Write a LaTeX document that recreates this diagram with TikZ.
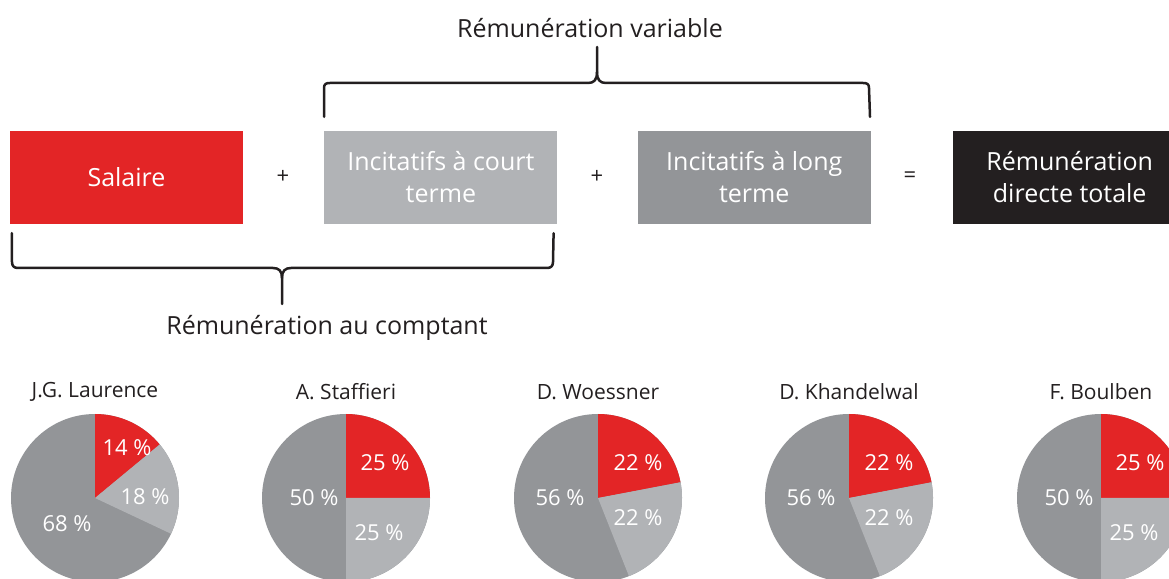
\documentclass[tikz,border=0pt]{standalone}
\usepackage{fontspec}
\setmainfont{Open Sans}
\usetikzlibrary{positioning}

\definecolor{salred}{HTML}{E32526}
\definecolor{courtgray}{HTML}{B1B3B6}
\definecolor{longgray}{HTML}{939598}
\definecolor{totalblack}{HTML}{231F20}

\tikzset{
  box/.style={minimum width=233, minimum height=93, inner sep=0pt, text=white,
    align=center, font=\fontsize{25}{32}\selectfont},
  op/.style={font=\fontsize{22}{26}\selectfont, text=totalblack},
  caption/.style={font=\fontsize{25}{29}\selectfont, text=totalblack},
  bracket/.style={line width=2.5, totalblack, line cap=round, line join=round},
  pietitle/.style={font=\fontsize{21}{25}\selectfont, text=totalblack},
  pct/.style={font=\fontsize{22}{26}\selectfont, text=white},
}

% #1 name, #2 centre x, #3 title, #4 red, #5 light, #6/#7/#8 label positions
\newcommand{\piechart}[8]{%
  \begin{scope}[shift={(#2,80)}]
    \pgfmathsetmacro{\angA}{90-3.6*#4}
    \pgfmathsetmacro{\angB}{\angA-3.6*#5}
    \pgfmathtruncatemacro{\rest}{100-#4-#5}
    \fill[longgray] (0,0) circle[radius=84];
    \fill[salred] (0,0) -- (90:84) arc[start angle=90, end angle=\angA, radius=84] -- cycle;
    \fill[courtgray] (0,0) -- (\angA:84) arc[start angle=\angA, end angle=\angB, radius=84] -- cycle;
    \node[pietitle] (#1-title) at (0,106) {#3};
    \node[pct] (#1-red) at (#6) {#4~\%};
    \node[pct] (#1-light) at (#7) {#5~\%};
    \node[pct] (#1-dark) at (#8) {\rest~\%};
  \end{scope}}

\begin{document}
\begin{tikzpicture}[x=1pt,y=1pt]
  \useasboundingbox (0,0) rectangle (1169,578);

  % components
  \node[box, fill=salred] (salaire) at (126.5,400.5) {Salaire};
  \node[box, fill=courtgray, right=81 of salaire] (court) {Incitatifs à court\\terme};
  \node[box, fill=longgray, right=80 of court] (long) {Incitatifs à long\\terme};
  \node[box, fill=totalblack, right=82 of long] (total) {Rémunération\\directe totale};

  \node[op] (plusA) at (283,401) {+};
  \node[op] (plusB) at (597,401) {+};
  \node[op] (equal) at (910,401) {=};

  % upper bracket
  \draw[bracket] ([yshift=14]court.north west) -- (324,490)
    .. controls (324,494) and (326,495) .. (330,495) -- (588,495)
    .. controls (594,495) and (597,498) .. (597,506) -- (597,531);
  \draw[bracket] ([xshift=-1,yshift=14]long.north east) -- (869,490)
    .. controls (869,494) and (867,495) .. (863,495) -- (606,495)
    .. controls (600,495) and (597,498) .. (597,506);
  \node[caption] (variable) at (590,550) {Rémunération variable};

  % lower bracket
  \draw[bracket] ([xshift=2,yshift=-9]salaire.south west) -- (12,316)
    .. controls (12,312) and (14,310) .. (18,310) -- (273,310)
    .. controls (279,310) and (282,307) .. (282,300) -- (282,274);
  \draw[bracket] ([xshift=-4,yshift=-9]court.south east) -- (553,316)
    .. controls (553,312) and (551,310) .. (547,310) -- (291,310)
    .. controls (285,310) and (282,307) .. (282,300);
  \node[caption] (comptant) at (327,250) {Rémunération au comptant};

  % pies
  \piechart{laurence}{95}{J.G. Laurence}{14}{18}{32,50}{50,1}{-28,-26}
  \piechart{staffieri}{346}{A. Staffieri}{25}{25}{39,35}{33,-35}{-32,0}
  \piechart{woessner}{598}{D. Woessner}{22}{22}{40,35}{40,-20}{-38,0}
  \piechart{khandelwal}{849}{D. Khandelwal}{22}{22}{40,35}{40,-20}{-38,0}
  \piechart{boulben}{1101}{F. Boulben}{25}{25}{39,35}{33,-35}{-32,0}
\end{tikzpicture}
\end{document}
